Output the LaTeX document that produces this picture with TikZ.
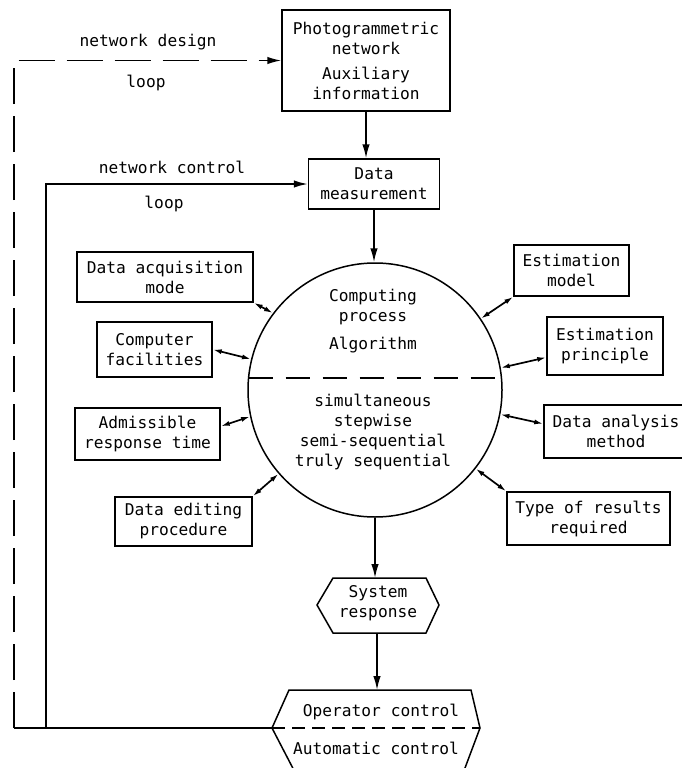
\documentclass[tikz,border=0pt]{standalone}
\usepackage{fontspec}
\setmainfont{DejaVu Sans Mono}
\usetikzlibrary{arrows.meta}
\begin{document}
\begin{tikzpicture}[x=1pt,y=-1pt,
  every node/.style={font=\fontsize{16.2}{20}\selectfont, inner sep=0pt, align=center},
  ln/.style={line width=1.5pt},
  box/.style={draw, line width=1.5pt},
  main/.style={line width=1.6pt, -{Latex[length=14pt,width=7.5pt]}},
  dbl/.style={line width=1.7pt, {Latex[length=9pt,width=5pt]}-{Latex[length=9pt,width=5pt]}},
  chord/.style={line width=1.5pt, dash pattern=on 24pt off 13pt},
  loopdash/.style={line width=1.5pt, dash pattern=on 36pt off 12pt},
  ctrldash/.style={line width=1.5pt, dash pattern=on 13pt off 7pt},
]
\clip (0,0) rectangle (682,768);
\fill[white] (0,0) rectangle (682,768);

% top boxes
\node[box, minimum width=168pt, minimum height=101pt] (photo) at (366,60.5)
  {Photogrammetric\\network\\[5pt]Auxiliary\\information};
\node[box, minimum width=131pt, minimum height=50pt] (meas) at (374,184)
  {Data\\measurement};

% central circle
\node[draw, circle, line width=1.5pt, minimum size=254pt] (cp) at (375,390) {};
\draw[chord] ([shift={(-126.4,-12)}]cp.center) -- ([shift={(126.4,-12)}]cp.center);
\node (cpa) at (373,307) {Computing\\process};
\node (cpb) at (373,345) {Algorithm};
\node (cpc) at (373,432) {simultaneous\\stepwise\\semi-sequential\\truly sequential};

% left boxes
\node[box, minimum width=176pt, minimum height=50pt] (acq) at (165,277) {Data acquisition\\mode};
\node[box, minimum width=115pt, minimum height=55pt] (comp) at (154.5,349.5) {Computer\\facilities};
\node[box, minimum width=145pt, minimum height=52pt] (adm) at (147.5,434) {Admissible\\response time};
\node[box, minimum width=137pt, minimum height=49pt] (edit) at (183.5,521.5) {Data editing\\procedure};

% right boxes
\node[box, minimum width=115pt, minimum height=51pt] (estm) at (571.5,270.5) {Estimation\\model};
\node[box, minimum width=116pt, minimum height=58pt] (estp) at (605,346) {Estimation\\principle};
\node[box, minimum width=144pt, minimum height=53pt] (dam) at (616,431.5) {Data analysis\\method};
\node[box, minimum width=163pt, minimum height=53pt] (type) at (588.5,518.5) {Type of results\\required};

% double arrows
\draw[dbl] (acq.south east) -- (cp.143.6);
\draw[dbl] (comp.east) -- (cp.166.7);
\draw[dbl] (adm.6) -- (cp.192.7);
\draw[dbl] (edit.north east) -- (cp.221);
\draw[dbl] (estm.south west) -- (cp.34.8);
\draw[dbl] (estp.191) -- (cp.10.3);
\draw[dbl] (dam.174) -- (cp.-11);
\draw[dbl] (type.north west) -- (cp.-38.5);

% system response hexagon
\draw[ln] (333,578) -- (426,578) -- (439,605) -- (426,633) -- (333,633) -- (317,605) -- cycle;
\coordinate (srN) at (375,578);
\coordinate (srS) at (377,633);
\node (srt) at (378,603) {System\\response};

% control shape
\draw[ln] (299,780) -- (272,728) -- (289,690) -- (471,690) -- (480,728) -- (460.5,780);
\coordinate (ctW) at (272,728);
\coordinate (ctE) at (480,728);
\coordinate (ctN) at (377,690);
\draw[ctrldash] (ctW) -- (ctE);
\node (op) at (381,712) {Operator control};
\node (au) at (376,748) {Automatic control};

% main flow arrows
\draw[main] (photo.south) -- (photo.south |- meas.north);
\draw[main] (meas.south) -- (meas.south |- cp.north);
\draw[main] (cp.south) -- (srN);
\draw[main] (srS) -- (ctN);

% loops
\coordinate (c1) at (46,728);
\coordinate (c2) at (14,728);
\draw[ln] (ctW) -- (c2);
\draw[main] (c1) |- (meas.west);
\draw[loopdash, -{Latex[length=14pt,width=7.5pt]}] (c2) |- (photo.west);

\node (nd) at (148,42) {network design};
\node (ndl) at (146,83) {loop};
\node (nc) at (172,167) {network control};
\node (ncl) at (164,204) {loop};
\end{tikzpicture}
\end{document}
